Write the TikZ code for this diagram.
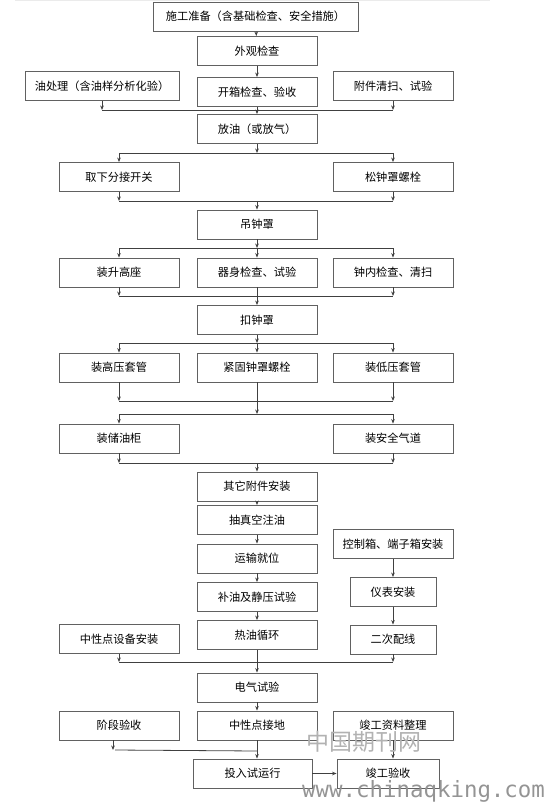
\documentclass[tikz,border=0pt]{standalone}
\usepackage{fontspec}
\newfontfamily\cjk{Noto Sans CJK SC}
\newfontfamily\wmono{DejaVu Sans Mono}
\usetikzlibrary{arrows.meta}
\tikzset{
  box/.style={draw=black!62, line width=0.9pt, fill=white, minimum width=120pt,
    minimum height=29pt, inner sep=0pt, text=black,
    font=\cjk\fontsize{11.2}{13}\selectfont},
  ln/.style={draw=black!75, line width=0.8pt},
  arr/.style={ln, -{Stealth[length=4.5pt,width=3.6pt]}},
  wm/.style={inner sep=0pt, text=black!42}
}
\begin{document}
\begin{tikzpicture}[x=1pt,y=-1pt]
\useasboundingbox (0,0) rectangle (546,802);
\draw[black!8, line width=0.8pt] (15,0.5) -- (490,0.5);

% nodes
\node[box, minimum width=205pt] (n1) at (255.5,16.5) {施工准备（含基础检查、安全措施）};
\node[box] (n2) at (257,51) {外观检查};
\node[box, minimum width=154pt] (oil) at (102,86) {油处理（含油样分析化验）};
\node[box] (n3) at (257,92) {开箱检查、验收};
\node[box] (att) at (393,86) {附件清扫、试验};
\node[box] (n4) at (257,129) {放油（或放气）};
\node[box] (tk) at (119,177) {取下分接开关};
\node[box] (sg) at (393,177) {松钟罩螺栓};
\node[box] (dz) at (257,224.5) {吊钟罩};
\node[box] (zs) at (119,272.5) {装升高座};
\node[box] (qs) at (257,272.5) {器身检查、试验};
\node[box] (zn) at (393,272.5) {钟内检查、清扫};
\node[box] (kz) at (257,320) {扣钟罩};
\node[box] (gy) at (119,367.5) {装高压套管};
\node[box] (jg) at (257,367.5) {紧固钟罩螺栓};
\node[box] (dy) at (393,367.5) {装低压套管};
\node[box] (cy) at (119,438.5) {装储油柜};
\node[box] (aq) at (393,438.5) {装安全气道};
\node[box] (qt) at (257,486.5) {其它附件安装};
\node[box] (cz) at (257,520) {抽真空注油};
\node[box] (ys) at (257,558.5) {运输就位};
\node[box] (by) at (257,597) {补油及静压试验};
\node[box] (rx) at (257,635) {热油循环};
\node[box] (kx) at (393,544) {控制箱、端子箱安装};
\node[box, minimum width=86pt] (yb) at (393,592) {仪表安装};
\node[box, minimum width=86pt] (ec) at (393,639.5) {二次配线};
\node[box] (zx) at (119,639) {中性点设备安装};
\node[box] (dq) at (257,687.5) {电气试验};
\node[box] (jd) at (119,725.5) {阶段验收};
\node[box] (zd) at (257,725.5) {中性点接地};
\node[box] (jz) at (393,725.5) {竣工资料整理};
\node[box, minimum width=119pt] (tr) at (252.5,773.5) {投入试运行};
\node[box, minimum width=102pt] (js) at (388,773.5) {竣工验收};

% junction coordinates
\coordinate (j1l) at (102,110); \coordinate (j1r) at (393,110);
\coordinate (j2l) at (119,153); \coordinate (j2c) at (257,153); \coordinate (j2r) at (393,153);
\coordinate (j3l) at (119,201); \coordinate (j3c) at (257,201); \coordinate (j3r) at (393,201);
\coordinate (j4l) at (119,248); \coordinate (j4c) at (257,248); \coordinate (j4r) at (393,248);
\coordinate (j5l) at (119,296); \coordinate (j5r) at (393,296);
\coordinate (j6l) at (119,343); \coordinate (j6c) at (257,343); \coordinate (j6r) at (393,343);
\coordinate (j7l) at (119,401); \coordinate (j7r) at (393,401);
\coordinate (j8l) at (119,414); \coordinate (j8c) at (257,414); \coordinate (j8r) at (393,414);
\coordinate (j9l) at (119,463); \coordinate (j9c) at (257,463); \coordinate (j9r) at (393,463);
\coordinate (j10l) at (119,662); \coordinate (j10r) at (393,662);
\coordinate (j11l) at (113,750); \coordinate (j11c) at (257,751);

% connectors
\draw[arr] (n1) -- (n2);
\draw[arr] (n2) -- (n3);
\draw[arr] (oil.south) -- (j1l);
\draw[arr] (att.south) -- (j1r);
\draw[ln] (j1l) -- (j1r);
\draw[arr] (n3.south) -- (n4.north);

\draw[arr] (n4.south) -- (j2c);
\draw[ln] (j2l) -- (j2r);
\draw[arr] (j2l) -- (tk.north);
\draw[arr] (j2r) -- (sg.north);

\draw[arr] (tk.south) -- (j3l);
\draw[arr] (sg.south) -- (j3r);
\draw[ln] (j3l) -- (j3r);
\draw[arr] (j3c) -- (dz.north);

\draw[arr] (dz.south) -- (j4c);
\draw[ln] (j4l) -- (j4r);
\draw[arr] (j4l) -- (zs.north);
\draw[arr] (j4c) -- (qs.north);
\draw[arr] (j4r) -- (zn.north);

\draw[arr] (zs.south) -- (j5l);
\draw[arr] (zn.south) -- (j5r);
\draw[ln] (j5l) -- (j5r);
\draw[arr] (qs.south) -- (kz.north);

\draw[arr] (kz.south) -- (j6c);
\draw[ln] (j6l) -- (j6r);
\draw[arr] (j6l) -- (gy.north);
\draw[arr] (j6c) -- (jg.north);
\draw[arr] (j6r) -- (dy.north);

\draw[arr] (gy.south) -- (j7l);
\draw[arr] (dy.south) -- (j7r);
\draw[ln] (j7l) -- (j7r);
\draw[arr] (jg.south) -- (j8c);
\draw[ln] (j8l) -- (j8r);
\draw[arr] (j8l) -- (cy.north);
\draw[arr] (j8r) -- (aq.north);

\draw[arr] (cy.south) -- (j9l);
\draw[arr] (aq.south) -- (j9r);
\draw[ln] (j9l) -- (j9r);
\draw[arr] (j9c) -- (qt.north);

\draw[arr] (qt) -- (cz);
\draw[arr] (cz) -- (ys);
\draw[arr] (ys) -- (by);
\draw[arr] (by) -- (rx);
\draw[arr] (kx) -- (yb);
\draw[arr] (yb) -- (ec);

\draw[arr] (zx.south) -- (j10l);
\draw[arr] (ec.south) -- (j10r);
\draw[ln] (j10l) -- (j10r);
\draw[arr] (rx.south) -- (dq.north);
\draw[arr] (dq) -- (zd);

\draw[arr] ([xshift=-6pt]jd.south) -- (j11l);
\draw[ln] ([xshift=2pt]j11l) -- (j11c);
\draw[arr] (zd.south) -- (zd.south |- tr.north);
\draw[arr] (jz.south) -- (jz.south |- js.north);
\draw[arr] (tr.east) -- (js.west);

% watermark
\node[wm, anchor=base west, text=black!30, font=\cjk\fontsize{23}{23}\selectfont] (wm1) at (306,750) {中国期刊网};
\node[wm, anchor=base west, font=\wmono\fontsize{22.4}{22}\selectfont] (wm2) at (302,797) {www.chinaqking.com};
\end{tikzpicture}
\end{document}
